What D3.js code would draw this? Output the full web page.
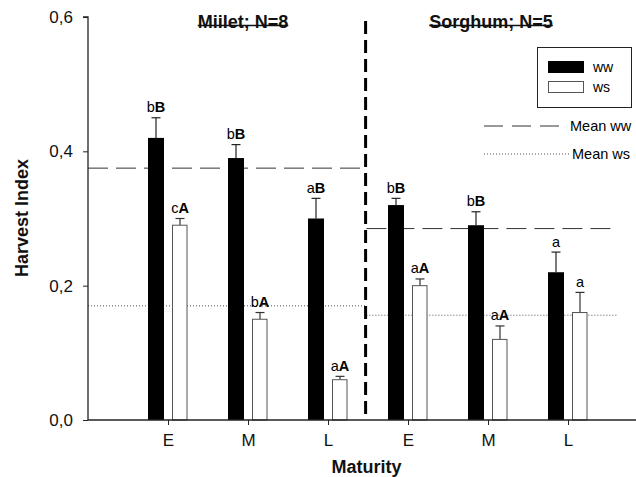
<!DOCTYPE html>
<html>
<head>
<meta charset="utf-8">
<script src="https://cdn.jsdelivr.net/npm/d3@7"></script>
<style>
  body { margin: 0; background: #fff; }
  svg { display: block; font-family: "Liberation Sans", Arial, sans-serif; }
</style>
</head>
<body>
<div id="chart"></div>
<script>
// maturity groups, left block millet, right block sorghum
var categories = ["E", "M", "L", "E", "M", "L"];
var wwValues = [0.42, 0.39, 0.30, 0.32, 0.29, 0.22];
var wwErrors = [0.03, 0.02, 0.03, 0.01, 0.02, 0.03];
var wsValues = [0.29, 0.15, 0.06, 0.20, 0.12, 0.16];
var wsErrors = [0.01, 0.01, 0.005, 0.01, 0.02, 0.03];
// significance letters: lower case (maturity) + upper case (water regime)
var wwLower = ["b", "b", "a", "b", "b", "a"];
var wwUpper = ["B", "B", "B", "B", "B", ""];
var wsLower = ["c", "b", "a", "a", "a", "a"];
var wsUpper = ["A", "A", "A", "A", "A", ""];
var crops = ["Miilet; N=8", "Sorghum; N=5"];
var meanWW = [0.375, 0.285];
var meanWS = [0.17, 0.156];
var yTicks = [0, 0.2, 0.4, 0.6];

(function () {
    "use strict";

    var width = 636, height = 477;
    var svg = d3.select("#chart").append("svg")
        .attr("width", width)
        .attr("height", height);

    // one unit per maturity group, tick at 1..6
    var x = d3.scaleLinear().domain([0, 7]).range([88, 648]);
    var y = d3.scaleLinear().domain([0, 0.6]).range([420, 17]);

    var fmt = d3.format(".1f");
    var barW = 16, gap = 4;
    var sepPos = 3.47;                       // divider between the crops
    var meanSpans = [[0, sepPos], [sepPos + 0.01, 6.55]];
    var meanSpansWS = [[0, sepPos], [sepPos + 0.01, 6.63]];

    // mean lines (drawn under the bars)
    var meanG = svg.append("g");
    meanG.selectAll("line.mww").data(meanWW).join("line")
        .attr("x1", (d, i) => x(meanSpans[i][0]))
        .attr("x2", (d, i) => x(meanSpans[i][1]))
        .attr("y1", d => y(d)).attr("y2", d => y(d))
        .attr("stroke", "#333").attr("stroke-width", 1)
        .attr("stroke-dasharray", "20,8");
    meanG.selectAll("line.mws").data(meanWS).join("line")
        .attr("x1", (d, i) => x(meanSpansWS[i][0]))
        .attr("x2", (d, i) => x(meanSpansWS[i][1]))
        .attr("y1", d => y(d)).attr("y2", d => y(d))
        .attr("stroke", "#555").attr("stroke-width", 1)
        .attr("stroke-dasharray", "1,2");

    var rows = categories.map((c, i) => ({ i: i, c: c }));

    // error bars
    function errBars(vals, errs, dx, col) {
        var g = svg.append("g").attr("stroke", col).attr("stroke-width", 1.2);
        g.selectAll("line.v").data(rows).join("line")
            .attr("x1", d => x(d.i + 1) + dx).attr("x2", d => x(d.i + 1) + dx)
            .attr("y1", d => y(vals[d.i])).attr("y2", d => y(vals[d.i] + errs[d.i]));
        g.selectAll("line.h").data(rows).join("line")
            .attr("x1", d => x(d.i + 1) + dx - 4.5).attr("x2", d => x(d.i + 1) + dx + 4.5)
            .attr("y1", d => y(vals[d.i] + errs[d.i])).attr("y2", d => y(vals[d.i] + errs[d.i]));
    }
    errBars(wwValues, wwErrors, -gap - barW / 2, "#222");
    errBars(wsValues, wsErrors, gap + barW / 2, "#333");

    // bars
    svg.append("g").selectAll("rect").data(rows).join("rect")
        .attr("x", d => x(d.i + 1) - gap - barW)
        .attr("width", barW)
        .attr("y", d => y(wwValues[d.i]))
        .attr("height", d => y(0) - y(wwValues[d.i]))
        .attr("fill", "#000");
    svg.append("g").selectAll("rect").data(rows).join("rect")
        .attr("x", d => x(d.i + 1) + gap + 0.5)
        .attr("width", barW - 1.5)
        .attr("y", d => y(wsValues[d.i]))
        .attr("height", d => y(0) - y(wsValues[d.i]))
        .attr("fill", "#fff").attr("stroke", "#555").attr("stroke-width", 1);

    // letters above error bars
    function letters(vals, errs, lower, upper, dx) {
        var t = svg.append("g").selectAll("text").data(rows).join("text")
            .attr("x", d => x(d.i + 1) + dx)
            .attr("y", d => y(vals[d.i] + errs[d.i]) - 5.5)
            .attr("text-anchor", "middle")
            .style("font-size", "14.5px");
        t.append("tspan").text(d => lower[d.i]);
        t.append("tspan").attr("font-weight", "bold").text(d => upper[d.i]);
    }
    letters(wwValues, wwErrors, wwLower, wwUpper, -gap - barW / 2);
    letters(wsValues, wsErrors, wsLower, wsUpper, gap + barW / 2);

    // axes
    var yAxis = svg.append("g").attr("transform", "translate(" + x(0) + ",0)")
        .call(d3.axisLeft(y).tickValues(yTicks).tickSize(5).tickPadding(10)
            .tickFormat(d => fmt(d).replace(".", ",")));
    var xAxis = svg.append("g").attr("transform", "translate(0," + y(0) + ")")
        .call(d3.axisBottom(x).tickValues(d3.range(1, 7)).tickSize(5).tickPadding(9)
            .tickFormat(d => categories[d - 1]));
    [yAxis, xAxis].forEach(function (a) {
        a.select(".domain").attr("stroke", "#222").attr("stroke-width", 1.3);
        a.selectAll(".tick line").attr("stroke", "#222");
        a.selectAll("text").attr("fill", "#111").style("font-size", "17px")
            .style("font-family", "Liberation Sans, Arial, sans-serif");
    });
    yAxis.select(".domain").attr("d", "M-5," + y(0.6) + "H0V" + y(0));
    xAxis.select(".domain").attr("d", "M" + x(0) + ",0H" + x(7));

    // crop divider
    svg.append("line")
        .attr("x1", x(sepPos)).attr("x2", x(sepPos))
        .attr("y1", 21).attr("y2", y(0))
        .attr("stroke", "#000").attr("stroke-width", 3)
        .attr("stroke-dasharray", "13,6");

    // crop titles, struck through near the baseline
    var titleX = [243, 491];
    crops.forEach(function (c, i) {
        var t = svg.append("text")
            .attr("x", titleX[i]).attr("y", 27.5)
            .attr("text-anchor", "middle")
            .attr("font-weight", "bold")
            .style("font-size", "18px")
            .attr("fill", "#111")
            .text(c);
        var bb = t.node().getBBox();
        svg.append("line")
            .attr("x1", bb.x).attr("x2", bb.x + bb.width)
            .attr("y1", 25.5).attr("y2", 25.5)
            .attr("stroke", "#111").attr("stroke-width", 1.6);
    });

    // axis titles
    svg.append("text")
        .attr("transform", "translate(28,218) rotate(-90)")
        .attr("text-anchor", "middle")
        .attr("font-weight", "bold")
        .style("font-size", "18px")
        .attr("fill", "#111")
        .text("Harvest Index");
    svg.append("text")
        .attr("x", 366.5).attr("y", 472.5)
        .attr("text-anchor", "middle")
        .attr("font-weight", "bold")
        .style("font-size", "18px")
        .attr("fill", "#111")
        .text("Maturity");

    // legend
    var leg = svg.append("g");
    leg.append("rect").attr("x", 537.5).attr("y", 47.5).attr("width", 94).attr("height", 60)
        .attr("fill", "#fff").attr("stroke", "#222");
    leg.append("rect").attr("x", 548).attr("y", 61).attr("width", 36).attr("height", 12)
        .attr("fill", "#000");
    leg.append("rect").attr("x", 548.5).attr("y", 81.5).attr("width", 35).attr("height", 11)
        .attr("fill", "#fff").attr("stroke", "#555");
    leg.append("text").attr("x", 593).attr("y", 72).style("font-size", "14px").text("ww");
    leg.append("text").attr("x", 593).attr("y", 92).style("font-size", "14px").text("ws");

    leg.append("line").attr("x1", 484).attr("x2", 563).attr("y1", 126).attr("y2", 126)
        .attr("stroke", "#333").attr("stroke-dasharray", "19,9");
    leg.append("text").attr("x", 570).attr("y", 131).style("font-size", "14.5px").text("Mean ww");
    leg.append("line").attr("x1", 484).attr("x2", 569).attr("y1", 154).attr("y2", 154)
        .attr("stroke", "#555").attr("stroke-dasharray", "1,2");
    leg.append("text").attr("x", 572).attr("y", 159).style("font-size", "14.5px").text("Mean ws");
})();
</script>
</body>
</html>
